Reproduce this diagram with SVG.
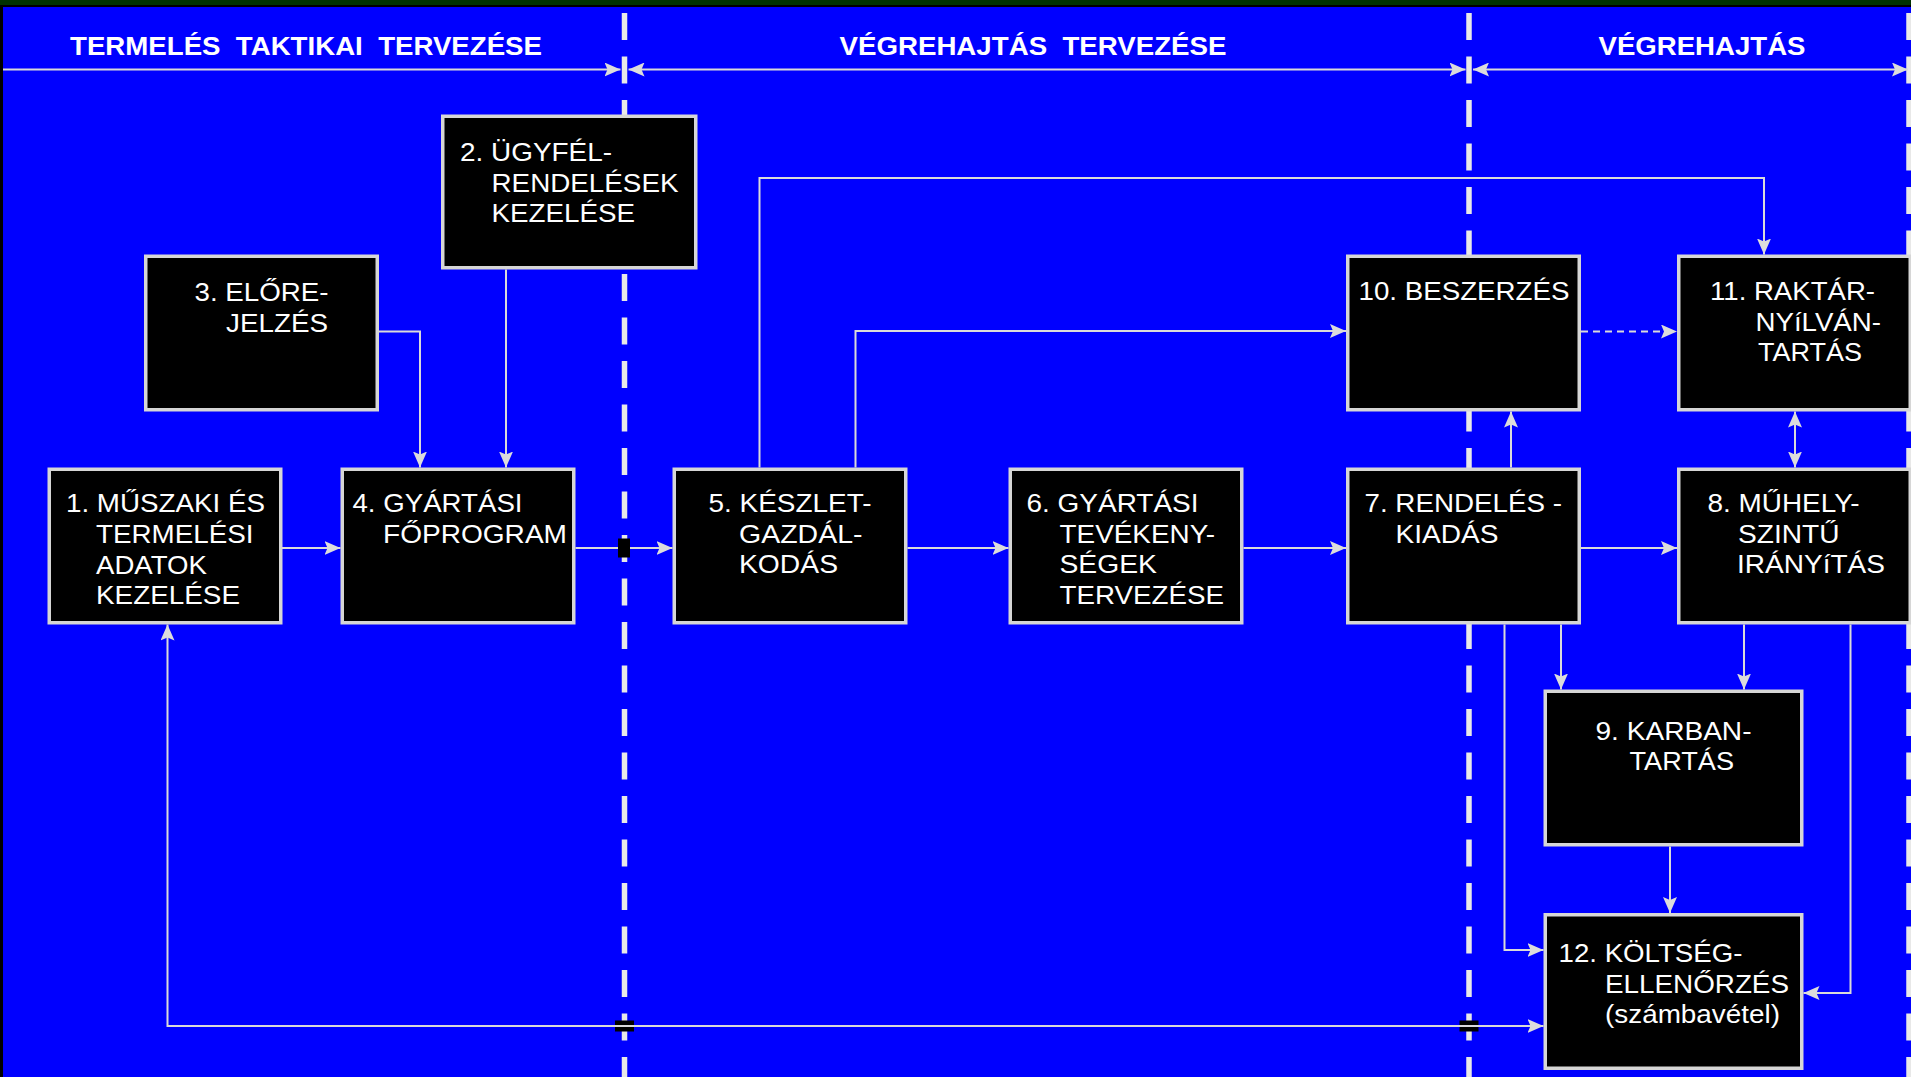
<svg xmlns="http://www.w3.org/2000/svg" width="1911" height="1077" viewBox="0 0 1911 1077">
<style>
.box{fill:#000;stroke:#d6d6d6;stroke-width:3.5}
.t{font-family:"Liberation Sans",Arial,sans-serif;font-size:25px;fill:#fff}
.h{font-family:"Liberation Sans",Arial,sans-serif;font-size:25px;font-weight:bold;fill:#fff}
.c{fill:none;stroke:#dadada;stroke-width:2}
.sep{stroke:#e8e8e8;stroke-width:5.5;stroke-dasharray:27 16.5}
</style>
<defs>
<marker id="ah" markerUnits="userSpaceOnUse" markerWidth="16" markerHeight="14" viewBox="0 0 16 14" refX="16" refY="7" orient="auto-start-reverse">
<path d="M0,0 L16,7 L0,14 L3,7 Z" fill="#dcdcdc"/>
</marker>
</defs>
<rect x="0" y="0" width="1911" height="1077" fill="#000"/>
<rect x="0" y="0" width="1911" height="5" fill="#003300"/>
<rect x="3" y="7" width="1908" height="1070" fill="#0000ff"/>

<g id="separators">
<line class="sep" x1="624.5" y1="13" x2="624.5" y2="1077"/>
<line class="sep" x1="1469" y1="13" x2="1469" y2="1077"/>
<line class="sep" x1="1909" y1="13" x2="1909" y2="1077"/>
</g>

<g id="phase-titles">
<text class="h" x="70" y="55" textLength="472" lengthAdjust="spacingAndGlyphs" xml:space="preserve">TERMELÉS  TAKTIKAI  TERVEZÉSE</text>
<text class="h" x="839.5" y="55" textLength="387" lengthAdjust="spacingAndGlyphs" xml:space="preserve">VÉGREHAJTÁS  TERVEZÉSE</text>
<text class="h" x="1598.5" y="55" textLength="207" lengthAdjust="spacingAndGlyphs">VÉGREHAJTÁS</text>
</g>

<g id="node-1">
<rect class="box" x="49.25" y="469.25" width="231.5" height="153.5"/>
<text class="t" x="66" y="512" textLength="199" lengthAdjust="spacingAndGlyphs">1. MŰSZAKI ÉS</text>
<text class="t" x="96" y="542.5" textLength="157.5" lengthAdjust="spacingAndGlyphs">TERMELÉSI</text>
<text class="t" x="96" y="573.5" textLength="111" lengthAdjust="spacingAndGlyphs">ADATOK</text>
<text class="t" x="96" y="604" textLength="144" lengthAdjust="spacingAndGlyphs">KEZELÉSE</text>
</g>
<g id="node-2">
<rect class="box" x="442.75" y="116.25" width="253" height="151.5"/>
<text class="t" x="460" y="161" textLength="152" lengthAdjust="spacingAndGlyphs">2. ÜGYFÉL-</text>
<text class="t" x="491.5" y="191.5" textLength="187" lengthAdjust="spacingAndGlyphs">RENDELÉSEK</text>
<text class="t" x="491.5" y="222" textLength="143.5" lengthAdjust="spacingAndGlyphs">KEZELÉSE</text>
</g>
<g id="node-3">
<rect class="box" x="145.75" y="256.25" width="231.5" height="153.5"/>
<text class="t" x="194.5" y="301" textLength="134" lengthAdjust="spacingAndGlyphs">3. ELŐRE-</text>
<text class="t" x="226" y="331.5" textLength="102" lengthAdjust="spacingAndGlyphs">JELZÉS</text>
</g>
<g id="node-4">
<rect class="box" x="342.25" y="469.25" width="231.5" height="153.5"/>
<text class="t" x="352.5" y="512" textLength="170" lengthAdjust="spacingAndGlyphs">4. GYÁRTÁSI</text>
<text class="t" x="383" y="542.5" textLength="184" lengthAdjust="spacingAndGlyphs">FŐPROGRAM</text>
</g>
<g id="node-5">
<rect class="box" x="674.25" y="469.25" width="231.5" height="153.5"/>
<text class="t" x="708.5" y="512" textLength="163" lengthAdjust="spacingAndGlyphs">5. KÉSZLET-</text>
<text class="t" x="739" y="542.5" textLength="123.5" lengthAdjust="spacingAndGlyphs">GAZDÁL-</text>
<text class="t" x="739" y="573" textLength="99" lengthAdjust="spacingAndGlyphs">KODÁS</text>
</g>
<g id="node-6">
<rect class="box" x="1010.25" y="469.25" width="231.5" height="153.5"/>
<text class="t" x="1026.5" y="512" textLength="172" lengthAdjust="spacingAndGlyphs">6. GYÁRTÁSI</text>
<text class="t" x="1059.5" y="542.5" textLength="155.5" lengthAdjust="spacingAndGlyphs">TEVÉKENY-</text>
<text class="t" x="1059.5" y="573" textLength="97.5" lengthAdjust="spacingAndGlyphs">SÉGEK</text>
<text class="t" x="1059.5" y="604" textLength="164.5" lengthAdjust="spacingAndGlyphs">TERVEZÉSE</text>
</g>
<g id="node-7">
<rect class="box" x="1347.75" y="469.25" width="231.5" height="153.5"/>
<text class="t" x="1364.5" y="512" textLength="197.5" lengthAdjust="spacingAndGlyphs">7. RENDELÉS -</text>
<text class="t" x="1395.5" y="542.5" textLength="103" lengthAdjust="spacingAndGlyphs">KIADÁS</text>
</g>
<g id="node-8">
<rect class="box" x="1678.75" y="469.25" width="231.5" height="153.5"/>
<text class="t" x="1707.5" y="512" textLength="152" lengthAdjust="spacingAndGlyphs">8. MŰHELY-</text>
<text class="t" x="1738" y="542.5" textLength="101.5" lengthAdjust="spacingAndGlyphs">SZINTŰ</text>
<text class="t" x="1737" y="573" textLength="148" lengthAdjust="spacingAndGlyphs">IRÁNYíTÁS</text>
</g>
<g id="node-9">
<rect class="box" x="1545.25" y="691.25" width="256.5" height="153.5"/>
<text class="t" x="1595.5" y="740" textLength="156" lengthAdjust="spacingAndGlyphs">9. KARBAN-</text>
<text class="t" x="1629.5" y="770" textLength="104.5" lengthAdjust="spacingAndGlyphs">TARTÁS</text>
</g>
<g id="node-10">
<rect class="box" x="1347.75" y="256.25" width="231.5" height="153.5"/>
<text class="t" x="1358.5" y="300" textLength="211" lengthAdjust="spacingAndGlyphs">10. BESZERZÉS</text>
</g>
<g id="node-11">
<rect class="box" x="1678.75" y="256.25" width="231.5" height="153.5"/>
<text class="t" x="1710" y="300" textLength="165" lengthAdjust="spacingAndGlyphs">11. RAKTÁR-</text>
<text class="t" x="1755.5" y="331" textLength="125.5" lengthAdjust="spacingAndGlyphs">NYíLVÁN-</text>
<text class="t" x="1758" y="361" textLength="104" lengthAdjust="spacingAndGlyphs">TARTÁS</text>
</g>
<g id="node-12">
<rect class="box" x="1545.25" y="914.75" width="256.5" height="153.5"/>
<text class="t" x="1558.5" y="962" textLength="184" lengthAdjust="spacingAndGlyphs">12. KÖLTSÉG-</text>
<text class="t" x="1605" y="992.5" textLength="184" lengthAdjust="spacingAndGlyphs">ELLENŐRZÉS</text>
<text class="t" x="1605" y="1023" textLength="175" lengthAdjust="spacingAndGlyphs">(számbavétel)</text>
</g>

<g id="crossings-under">
<rect x="615" y="1020.5" width="19" height="11" fill="#000"/>
<rect x="1459.5" y="1020.5" width="19" height="11" fill="#000"/>
</g>

<g id="connectors">
<line class="c" x1="3" y1="69.5" x2="620.5" y2="69.5" marker-end="url(#ah)"/>
<line class="c" x1="628.5" y1="69.5" x2="1465.5" y2="69.5" marker-start="url(#ah)" marker-end="url(#ah)"/>
<line class="c" x1="1473" y1="69.5" x2="1908" y2="69.5" marker-start="url(#ah)" marker-end="url(#ah)"/>
<path class="c" d="M282,548 H340.5" marker-end="url(#ah)"/>
<path class="c" d="M379,331.5 H420 V467.5" marker-end="url(#ah)"/>
<path class="c" d="M506,269.5 V467.5" marker-end="url(#ah)"/>
<path class="c" d="M575.5,548 H672.5" marker-end="url(#ah)"/>
<path class="c" d="M759.5,467.5 V178 H1764 V254.5" marker-end="url(#ah)"/>
<path class="c" d="M855.5,467.5 V331 H1346" marker-end="url(#ah)"/>
<path class="c" d="M907.5,548 H1008.5" marker-end="url(#ah)"/>
<path class="c" d="M1243.5,548 H1346" marker-end="url(#ah)"/>
<path class="c" d="M1511,467.5 V411.5" marker-end="url(#ah)"/>
<path class="c" d="M1581,331.5 H1677" stroke-dasharray="7 5" marker-end="url(#ah)"/>
<path class="c" d="M1795,411.5 V467.5" marker-start="url(#ah)" marker-end="url(#ah)"/>
<path class="c" d="M1581,548 H1677" marker-end="url(#ah)"/>
<path class="c" d="M1561,624.5 V689.5" marker-end="url(#ah)"/>
<path class="c" d="M1744,624.5 V689.5" marker-end="url(#ah)"/>
<path class="c" d="M1504.5,624.5 V950 H1543.5" marker-end="url(#ah)"/>
<path class="c" d="M1850.5,624.5 V993 H1803.5" marker-end="url(#ah)"/>
<path class="c" d="M1670,846.5 V913" marker-end="url(#ah)"/>
<path class="c" d="M167.5,624.5 V1026 H1543.5" marker-start="url(#ah)" marker-end="url(#ah)"/>
</g>

<g id="crossings-over">
<rect x="618" y="538.5" width="12" height="19" fill="#000"/>
</g>
</svg>
